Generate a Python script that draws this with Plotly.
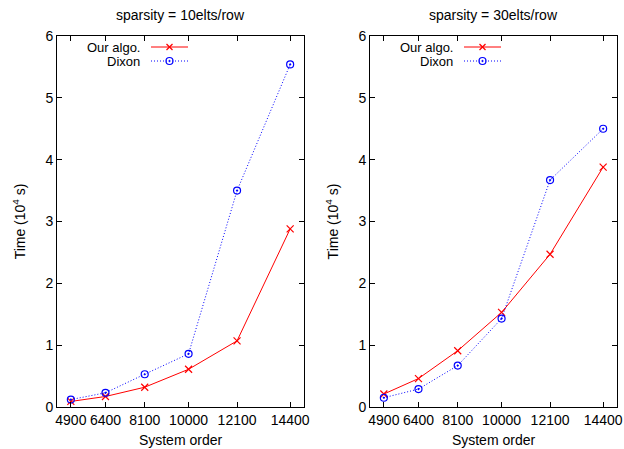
import plotly.graph_objects as go

order = [4900, 6400, 8100, 10000, 12100, 14400]
tick_labels = ["4900", "6400", "8100", "10000", "12100", "14400"]

ours_10 = [0.09, 0.17, 0.32, 0.61, 1.07, 2.88]
dixon_10 = [0.12, 0.23, 0.53, 0.86, 3.50, 5.54]
ours_30 = [0.21, 0.46, 0.91, 1.53, 2.47, 3.88]
dixon_30 = [0.15, 0.29, 0.67, 1.43, 3.67, 4.50]

titles = ["sparsity = 10elts/row", "sparsity = 30elts/row"]

FONT = "Liberation Sans, Arial, Helvetica, sans-serif"
W, H = 624, 449
FS = 14

fig = go.Figure()

panels = [
    (ours_10, dixon_10, "x", "y", [57, 304]),
    (ours_30, dixon_30, "x2", "y2", [370, 617]),
]

for i, (ours, dixon, xa, ya, (x0, x1)) in enumerate(panels):
    fig.add_trace(go.Scatter(
        x=order, y=ours, xaxis=xa, yaxis=ya, mode="lines+markers",
        line=dict(color="#ff0000", width=1),
        marker=dict(symbol="x-thin-open", size=7, color="#ff0000",
                    line=dict(color="#ff0000", width=1.2)),
        showlegend=False, name="Our algo."))
    fig.add_trace(go.Scatter(
        x=order, y=dixon, xaxis=xa, yaxis=ya, mode="lines+markers",
        line=dict(color="#0000ff", width=1, dash="1px,2px"),
        marker=dict(symbol="circle-open-dot", size=7, color="#0000ff",
                    line=dict(color="#0000ff", width=1.2)),
        showlegend=False, name="Dixon"))

axis_common = dict(
    showline=True, linecolor="black", linewidth=1, mirror="allticks",
    ticks="inside", ticklen=5, tickcolor="black", showgrid=False,
    zeroline=False, automargin=False,
    tickfont=dict(family=FONT, size=FS, color="black"),
)

top, bottom = 36, 407
ydom = [1 - bottom / H, 1 - top / H]

layout = dict(
    width=W, height=H, paper_bgcolor="white", plot_bgcolor="white",
    margin=dict(l=0, r=0, t=0, b=0), showlegend=False,
    font=dict(family=FONT, size=FS, color="black"),
)
for i, (_, _, xa, ya, (x0, x1)) in enumerate(panels):
    suffix = "" if i == 0 else "2"
    layout["xaxis" + suffix] = dict(
        axis_common, domain=[x0 / W, x1 / W], range=[4300, 15000],
        tickvals=order, ticktext=tick_labels, anchor="y" + suffix,
        title=dict(text="System order", standoff=8,
                   font=dict(family=FONT, size=FS)))
    layout["yaxis" + suffix] = dict(
        axis_common, domain=ydom, range=[0, 6], dtick=1, anchor="x" + suffix,
        title=dict(text="Time (10<sup>4</sup> s)", standoff=16,
                   font=dict(family=FONT, size=FS)))

fig.update_layout(**layout)

annotations = []
shapes = []
LFS = 13
for i, (_, _, xa, ya, (x0, x1)) in enumerate(panels):
    cx = (x0 + x1) / 2
    annotations.append(dict(text=titles[i], x=cx / W, y=1 - 15 / H,
                            xref="paper", yref="paper", showarrow=False,
                            xanchor="center", yanchor="middle",
                            font=dict(family=FONT, size=FS)))
    # legend
    text_right = x0 + 85
    ls0, ls1 = text_right + 9, text_right + 46
    for j, (label, color, dash, sym) in enumerate([
            ("Our algo.", "#ff0000", "solid", "x"),
            ("Dixon", "#0000ff", "1px,2px", "o")]):
        yy = 47 + 14 * j
        annotations.append(dict(text=label, x=text_right / W, y=1 - yy / H,
                                xref="paper", yref="paper", showarrow=False,
                                xanchor="right", yanchor="middle",
                                font=dict(family=FONT, size=LFS)))
        shapes.append(dict(type="line", xref="paper", yref="paper",
                           x0=ls0 / W, x1=ls1 / W, y0=1 - yy / H, y1=1 - yy / H,
                           line=dict(color=color, width=1, dash=dash)))
        mx = (ls0 + ls1) / 2
        if sym == "x":
            for s in (1, -1):
                shapes.append(dict(type="line", xref="paper", yref="paper",
                                   x0=(mx - 3) / W, x1=(mx + 3) / W,
                                   y0=1 - (yy - 3 * s) / H, y1=1 - (yy + 3 * s) / H,
                                   line=dict(color=color, width=1.2)))
        else:
            shapes.append(dict(type="circle", xref="paper", yref="paper",
                               x0=(mx - 3.5) / W, x1=(mx + 3.5) / W,
                               y0=1 - (yy - 3.5) / H, y1=1 - (yy + 3.5) / H,
                               line=dict(color=color, width=1.2)))
            shapes.append(dict(type="circle", xref="paper", yref="paper",
                               x0=(mx - 0.8) / W, x1=(mx + 0.8) / W,
                               y0=1 - (yy - 0.8) / H, y1=1 - (yy + 0.8) / H,
                               fillcolor=color, line=dict(color=color, width=0.5)))

fig.update_layout(annotations=annotations, shapes=shapes)
fig.write_html("out.html",
               config={"displayModeBar": False},
               post_script="document.body.style.margin='0';document.body.style.overflow='hidden';")
